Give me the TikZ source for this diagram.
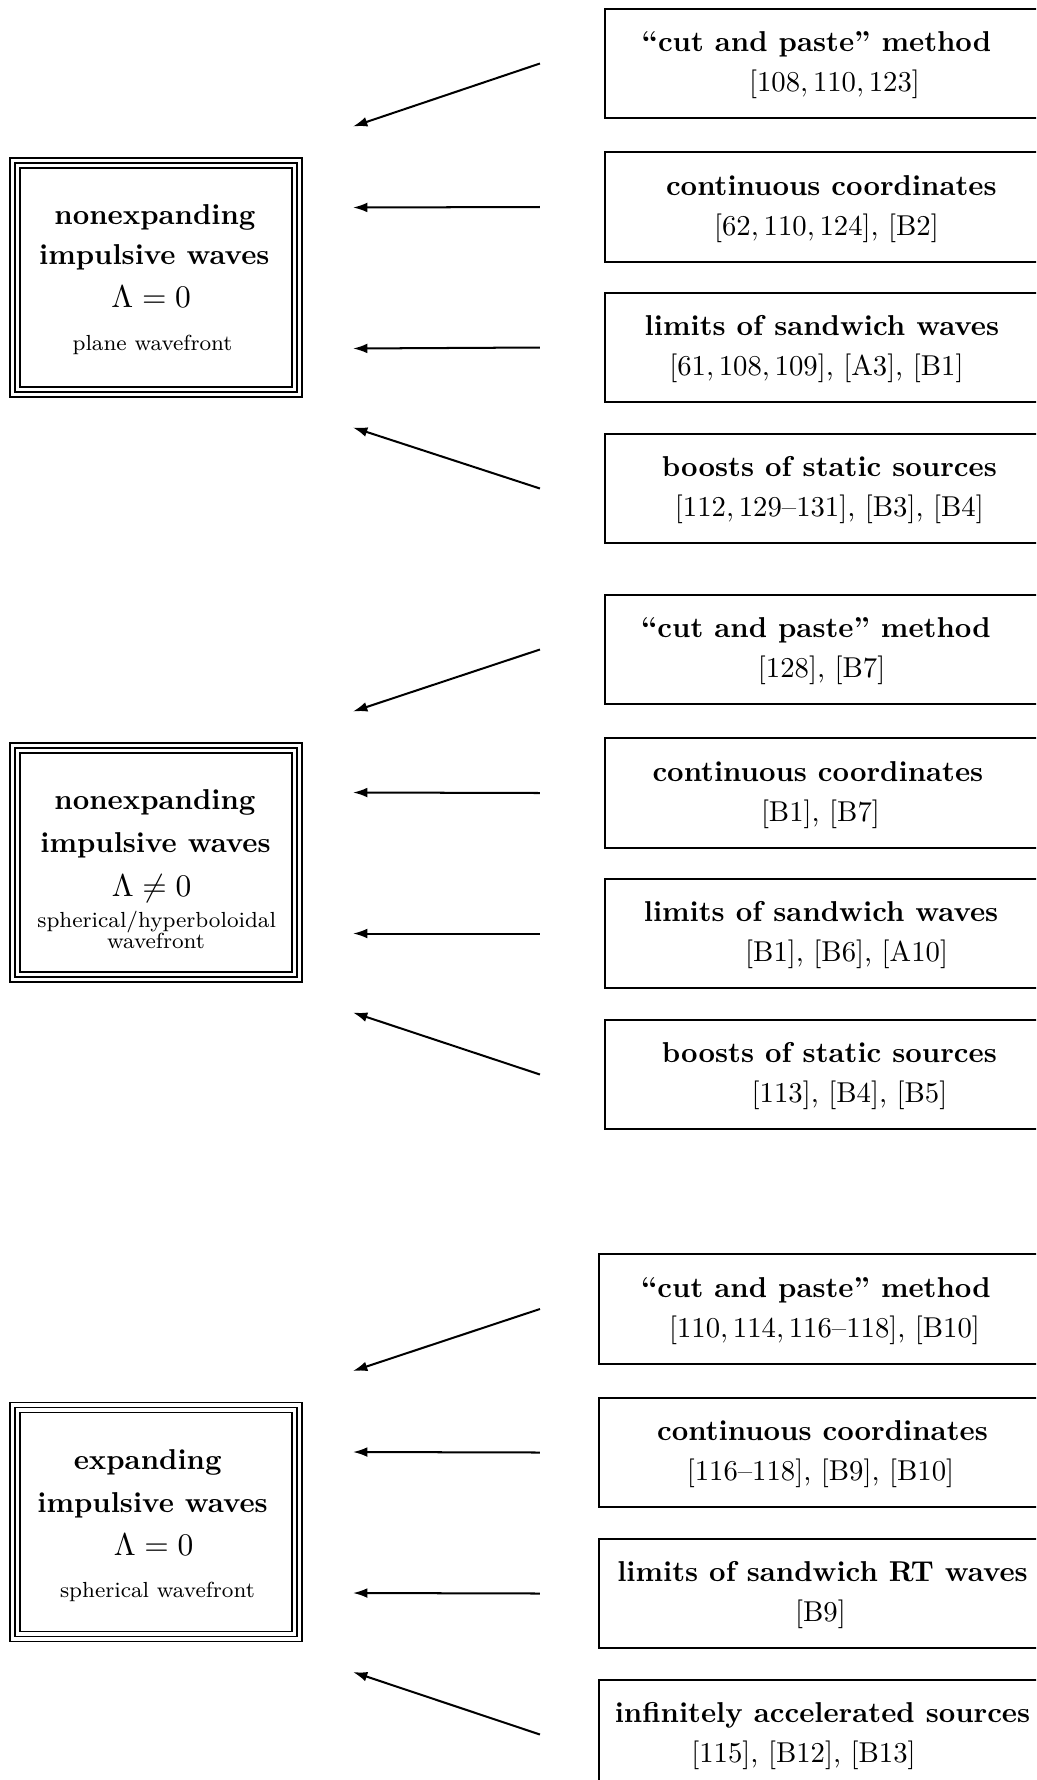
\documentclass[tikz,border=0pt]{standalone}
\usetikzlibrary{arrows.meta,calc}

% shift one centred line sideways without changing its width
\newcommand{\nudge}[2]{\hspace*{#1}#2\hspace*{-#1}}
% invisible strut that sets the height of a first line
\newcommand{\tallline}[1]{\rule{0pt}{#1}}
\newcommand{\smalltext}{\fontsize{7.6}{9}\selectfont}
\newcommand{\lamsize}{\fontsize{10.95}{13}\selectfont}
% the two inner lines of a triple frame
\newcommand{\innerframes}[1]{%
  \foreach \d in {5,10}{%
    \draw[frameline] ([shift={(\d,\d)}]#1.north west) rectangle ([shift={(-\d,-\d)}]#1.south east);}}

\begin{document}
\begin{tikzpicture}[x=0.348pt,y=-0.348pt,
  every node/.style={inner sep=0pt, outer sep=0pt},
  frameline/.style={line width=0.55pt},
  tribox/.style={draw, frameline, minimum width=101.6pt, minimum height=83.2pt,
    align=center, font=\fontsize{10}{14.4}\selectfont},
  refbox/.style={draw, line width=0.7pt, minimum width=154.2pt, minimum height=38.1pt,
    align=center, font=\fontsize{10}{13.9}\selectfont},
  widebox/.style={refbox, minimum width=155.6pt},
  conn/.style={line width=0.7pt, -{Latex[length=5pt,width=3.4pt]}}]

\fill[white] (0,0) rectangle (1036,1780);
\useasboundingbox (0,0) rectangle (1036,1780);
\clip (0,0) rectangle (1036,1780);

% ---------- plane impulsive waves, Lambda = 0 ----------
\node[tribox] (nA) at (156,277.5) {%
  \tallline{8.7pt}\nudge{-0.35pt}{\textbf{nonexpanding}}\\[-0.5pt]
  \nudge{-1.2pt}{\textbf{impulsive waves}}\\[0.6pt]
  \nudge{-3.3pt}{{\lamsize$\Lambda=0$}}\\[0.6pt]
  \nudge{-1.2pt}{{\smalltext plane wavefront}}};
\innerframes{nA}

\node[refbox] (c1) at (826.5,63.5) {%
  \tallline{8.1pt}\nudge{-3.5pt}{\textbf{“cut and paste” method}}\\
  \nudge{2.8pt}{$[108,110,123]$}};
\node[refbox] (c2) at (826.5,207) {%
  \tallline{8.1pt}\nudge{1.7pt}{\textbf{continuous coordinates}}\\
  $[62,110,124]$, [B2]};
\node[refbox] (c3) at (826.5,347.5) {%
  \tallline{8.1pt}\nudge{-1.6pt}{\textbf{limits of sandwich waves}}\\
  \nudge{-3.5pt}{$[61,108,109]$, [A3], [B1]}};
\node[refbox] (c4) at (826.5,488.5) {%
  \tallline{8.1pt}\nudge{1pt}{\textbf{boosts of static sources}}\\
  \nudge{1pt}{$[112,129\mbox{--}131]$, [B3], [B4]}};

\draw[conn] ($(c1.west)+(-65,0)$) -- ($(nA.east)+(51,-151)$);
\draw[conn] ($(c2.west)+(-65,0)$) -- ($(nA.east)+(51,-70)$);
\draw[conn] ($(c3.west)+(-65,0)$) -- ($(nA.east)+(51,71)$);
\draw[conn] ($(c4.west)+(-65,0)$) -- ($(nA.east)+(51,150)$);

% ---------- nonexpanding waves with Lambda /= 0 ----------
\node[tribox] (nB) at (156,862.5) {%
  \tallline{11.8pt}\nudge{-0.35pt}{\textbf{nonexpanding}}\\[0.5pt]
  \nudge{-0.35pt}{\textbf{impulsive waves}}\\[0.9pt]
  \nudge{-3.1pt}{{\lamsize$\Lambda\neq0$}}\\[-3.6pt]
  \nudge{0.5pt}{{\smalltext spherical/hyperboloidal}}\\[-7.1pt]
  {\smalltext wavefront}};
\innerframes{nB}

\node[refbox] (d1) at (826.5,649.5) {%
  \tallline{8.1pt}\nudge{-3.7pt}{\textbf{“cut and paste” method}}\\
  \nudge{-1.7pt}{[128], [B7]}};
\node[refbox] (d2) at (826.5,793) {%
  \tallline{8.1pt}\nudge{-3pt}{\textbf{continuous coordinates}}\\
  \nudge{-2.1pt}{[B1], [B7]}};
\node[refbox] (d3) at (826.5,933.5) {%
  \tallline{8.1pt}\nudge{-1.9pt}{\textbf{limits of sandwich waves}}\\
  \nudge{7pt}{[B1], [B6], [A10]}};
\node[refbox] (d4) at (826.5,1074.5) {%
  \tallline{8.1pt}\nudge{1pt}{\textbf{boosts of static sources}}\\
  \nudge{8pt}{[113], [B4], [B5]}};

\draw[conn] ($(d1.west)+(-65,0)$) -- ($(nB.east)+(51,-151)$);
\draw[conn] ($(d2.west)+(-65,0)$) -- ($(nB.east)+(51,-70)$);
\draw[conn] ($(d3.west)+(-65,0)$) -- ($(nB.east)+(51,71)$);
\draw[conn] ($(d4.west)+(-65,0)$) -- ($(nB.east)+(51,150)$);

% ---------- expanding impulsive waves ----------
\node[tribox] (nC) at (156,1522) {%
  \tallline{9.5pt}\nudge{-2.9pt}{\textbf{expanding}}\\[0.5pt]
  \nudge{-2.4pt}{\textbf{impulsive waves}}\\[0.6pt]
  \nudge{-1.7pt}{{\lamsize$\Lambda=0$}}\\[0.1pt]
  \nudge{0.5pt}{{\smalltext spherical wavefront}}};
\innerframes{nC}

\node[widebox] (e1) at (822.5,1309) {%
  \tallline{8.1pt}\nudge{-2.3pt}{\textbf{“cut and paste” method}}\\
  \nudge{0.7pt}{$[110,114,116\mbox{--}118]$, [B10]}};
\node[widebox] (e2) at (822.5,1452.5) {%
  \tallline{8.1pt}\textbf{continuous coordinates}\\
  \nudge{-0.7pt}{[116–118], [B9], [B10]}};
\node[widebox] (e3) at (822.5,1593.5) {%
  \tallline{8.1pt}\textbf{limits of sandwich RT waves}\\
  \nudge{-0.7pt}{[B9]}};
\node[widebox] (e4) at (822.5,1734.5) {%
  \tallline{8.1pt}\textbf{infinitely accelerated sources}\\
  \nudge{-6.6pt}{[115], [B12], [B13]}};

\draw[conn] ($(e1.west)+(-59,0)$) -- ($(nC.east)+(51,-151)$);
\draw[conn] ($(e2.west)+(-59,0)$) -- ($(nC.east)+(51,-70)$);
\draw[conn] ($(e3.west)+(-59,0)$) -- ($(nC.east)+(51,71)$);
\draw[conn] ($(e4.west)+(-59,0)$) -- ($(nC.east)+(51,150)$);

\end{tikzpicture}
\end{document}
